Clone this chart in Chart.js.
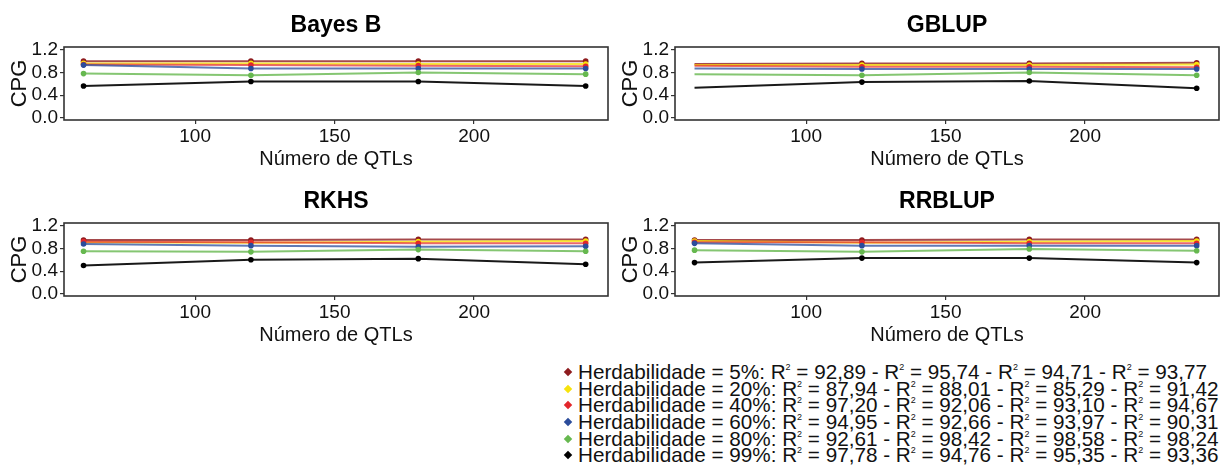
<!DOCTYPE html>
<html>
<head>
<meta charset="utf-8">
<script src="https://cdn.jsdelivr.net/npm/chart.js@4.4.1/dist/chart.umd.min.js"></script>
<style>
    html, body { margin: 0; padding: 0; background: #fff; }
    body { width: 1225px; height: 465px; position: relative; overflow: hidden;
           font-family: "Liberation Sans", Arial, sans-serif; color: #111; }
    canvas.panel { position: absolute; }
    #legend { position: absolute; left: 562px; top: 364px; font-size: 20.7px; white-space: nowrap; }
    #legend .row { height: 16.7px; line-height: 16.7px; }
    #legend .mk { display: inline-block; width: 6px; height: 6px; transform: rotate(45deg);
                  margin: 0 7px 3px 3px; vertical-align: middle; }
    #legend sup { font-size: 9px; line-height: 0; vertical-align: 9px; }
</style>
</head>
<body>
<canvas class="panel" id="p-bayesb" width="612" height="169" style="left:0;top:0"></canvas>
<canvas class="panel" id="p-gblup" width="612" height="169" style="left:611px;top:0"></canvas>
<canvas class="panel" id="p-rkhs" width="612" height="169" style="left:0;top:176px"></canvas>
<canvas class="panel" id="p-rrblup" width="612" height="169" style="left:611px;top:176px"></canvas>
<div id="legend"></div>
<script>
/* CPG x número de QTLs, um painel por método, uma linha por herdabilidade */

const QTLS = [60, 120, 180, 240];
const X_TICKS = [100, 150, 200];
const Y_TICKS = [0, 0.4, 0.8, 1.2];
const HERDAB = ['5%', '20%', '40%', '60%', '80%', '99%'];
const COLORS = ['#8e1b1e', '#f7e30c', '#e3262b', '#2b4c9b', '#66b84f', '#000000'];
const LINE_COLORS = ['rgba(142,27,30,0.8)', 'rgba(247,227,12,0.8)', 'rgba(227,38,43,0.7)',
    'rgba(43,76,155,0.75)', 'rgba(102,184,79,0.8)', 'rgba(0,0,0,0.9)'];

// linhas: 5%, 20%, 40%, 60%, 80%, 99%
const CPG_BAYESB = [
    [1.00, 1.00, 1.00, 1.00],
    [0.96, 0.96, 0.95, 0.95],
    [0.94, 0.93, 0.92, 0.91],
    [0.93, 0.87, 0.87, 0.87],
    [0.78, 0.75, 0.80, 0.77],
    [0.56, 0.64, 0.64, 0.56],
];
const CPG_GBLUP = [
    [0.95, 0.96, 0.96, 0.97],
    [0.93, 0.93, 0.93, 0.94],
    [0.92, 0.90, 0.90, 0.89],
    [0.87, 0.86, 0.86, 0.86],
    [0.77, 0.75, 0.80, 0.75],
    [0.53, 0.63, 0.65, 0.52],
];
const CPG_RKHS = [
    [0.95, 0.95, 0.96, 0.96],
    [0.91, 0.90, 0.92, 0.93],
    [0.92, 0.91, 0.89, 0.89],
    [0.88, 0.85, 0.83, 0.84],
    [0.75, 0.74, 0.78, 0.75],
    [0.50, 0.60, 0.62, 0.52],
];
const CPG_RRBLUP = [
    [0.95, 0.95, 0.96, 0.96],
    [0.93, 0.90, 0.92, 0.93],
    [0.91, 0.91, 0.89, 0.89],
    [0.89, 0.85, 0.85, 0.85],
    [0.77, 0.74, 0.79, 0.76],
    [0.55, 0.63, 0.63, 0.55],
];

// R² por herdabilidade (Bayes B, GBLUP, RKHS, RRBLUP)
const R2_H5 = [92.89, 95.74, 94.71, 93.77];
const R2_H20 = [87.94, 88.01, 85.29, 91.42];
const R2_H40 = [97.20, 92.06, 93.10, 94.67];
const R2_H60 = [94.95, 92.66, 93.97, 90.31];
const R2_H80 = [92.61, 98.42, 98.58, 98.24];
const R2_H99 = [97.78, 94.76, 95.35, 93.36];
const R2 = [R2_H5, R2_H20, R2_H40, R2_H60, R2_H80, R2_H99];

const FONT = '"Liberation Sans", Arial, sans-serif';
const INK = '#111';

// moldura do painel por cima das linhas + título centrado na área do gráfico
const frame = {
    id: 'frame',
    afterDatasetsDraw(chart, args, opts) {
        const { ctx, chartArea: a } = chart;
        ctx.save();
        ctx.strokeStyle = '#333';
        ctx.lineWidth = 1.6;
        ctx.strokeRect(a.left, a.top, a.right - a.left, a.bottom - a.top);
        ctx.fillStyle = '#000';
        ctx.font = `bold 23px ${FONT}`;
        ctx.textAlign = 'center';
        ctx.textBaseline = 'middle';
        ctx.fillText(opts.text, (a.left + a.right) / 2, 26);
        ctx.restore();
    },
};

function makePanel(id, title, rows, noFirstMarker) {
    const r = 2.8;
    new Chart(document.getElementById(id), {
        type: 'line',
        data: {
            datasets: rows.map((vals, i) => ({
                label: HERDAB[i],
                data: QTLS.map((q, j) => ({ x: q, y: vals[j] })),
                borderColor: LINE_COLORS[i],
                backgroundColor: COLORS[i],
                pointBackgroundColor: COLORS[i],
                pointBorderWidth: 0,
                pointRadius: noFirstMarker ? [0, r, r, r] : r,
                borderWidth: 2,
                tension: 0,
                order: rows.length - i,
            })),
        },
        options: {
            responsive: false,
            animation: false,
            devicePixelRatio: 1,
            layout: { padding: { left: 0, right: 3, top: 47, bottom: 0 } },
            plugins: {
                legend: { display: false },
                tooltip: { enabled: false },
                title: { display: false },
                frame: { text: title },
            },
            scales: {
                x: {
                    type: 'linear', min: 53, max: 248,
                    afterBuildTicks: (s) => { s.ticks = X_TICKS.map((v) => ({ value: v })); },
                    grid: { drawOnChartArea: false, drawTicks: true, tickLength: 4, color: '#333', lineWidth: 1.2 },
                    border: { display: false },
                    ticks: { color: INK, padding: 3, maxRotation: 0, autoSkip: false,
                             font: { family: FONT, size: 19, lineHeight: 1 } },
                    title: { display: true, text: 'Número de QTLs', color: INK,
                             font: { family: FONT, size: 20, lineHeight: 1 }, padding: { top: 0, bottom: 0 } },
                },
                y: {
                    min: -0.04, max: 1.25,
                    afterBuildTicks: (s) => { s.ticks = Y_TICKS.map((v) => ({ value: v })); },
                    afterFit: (s) => { s.width = 64; },
                    grid: { drawOnChartArea: false, drawTicks: true, tickLength: 4, color: '#333', lineWidth: 1.2 },
                    border: { display: false },
                    ticks: { color: INK, padding: 2, callback: (v) => v.toFixed(1),
                             font: { family: FONT, size: 19, lineHeight: 1 } },
                    title: { display: true, text: 'CPG', color: INK,
                             font: { family: FONT, size: 22, lineHeight: 1 }, padding: { top: 9, bottom: 0 } },
                },
            },
        },
        plugins: [frame],
    });
}

makePanel('p-bayesb', 'Bayes B', CPG_BAYESB, false);
makePanel('p-gblup', 'GBLUP', CPG_GBLUP, true);
makePanel('p-rkhs', 'RKHS', CPG_RKHS, false);
makePanel('p-rrblup', 'RRBLUP', CPG_RRBLUP, false);

// legenda com os R² de cada herdabilidade
const legend = document.getElementById('legend');
HERDAB.forEach((h, i) => {
    const parts = R2[i].map((v) => 'R<sup>2</sup> = ' + v.toFixed(2).replace('.', ',')).join(' - ');
    const row = document.createElement('div');
    row.className = 'row';
    row.innerHTML = `<span class="mk" style="background:${COLORS[i]}"></span>Herdabilidade = ${h}: ${parts}`;
    legend.appendChild(row);
});
</script>
</body>
</html>
